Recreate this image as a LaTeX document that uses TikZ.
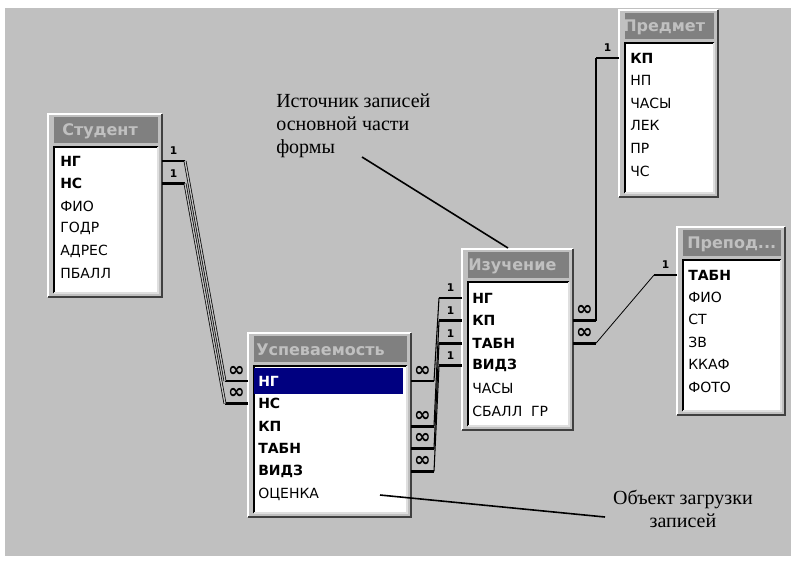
\documentclass[tikz,border=0pt]{standalone}
\usepackage{fontspec}
\setmainfont{DejaVu Sans}
\newfontfamily\notefont{Liberation Serif}
\usetikzlibrary{calc}

\definecolor{winface}{HTML}{C0C0C0}
\definecolor{winshadow}{HTML}{404040}
\definecolor{wintitle}{HTML}{808080}
\definecolor{winlight}{HTML}{DFDFDF}
\definecolor{selnavy}{HTML}{000080}

% one field list window: id, x0, y0, x1, y1, title, title x
\newcommand\fieldlist[7]{%
  \fill[winface] (#2,#3) rectangle (#4,#5);
  \draw[white, line width=1.5pt] (#2,#5) -- (#2,#3) -- (#4,#3);
  \draw[winshadow, line width=1.5pt] (#4,#3) -- (#4,#5) -- (#2,#5);
  \fill[wintitle] (#2+6,#3+3) rectangle (#4-4,#3+29);
  \node[titletext] (#1-title) at (#7,#3+17) {#6};
  \fill[white] (#2+6,#3+33) rectangle (#4-4,#5-4);
  \draw[black, line width=1.5pt] (#2+6,#5-4) -- (#2+6,#3+33) -- (#4-4,#3+33);
  \draw[winlight, line width=1pt] (#4-4,#3+33) -- (#4-4,#5-4) -- (#2+6,#5-4);
  \coordinate (#1-nw) at (#2,#3);
  \coordinate (#1-se) at (#4,#5);
}

\begin{document}
\begin{tikzpicture}[
  x=0.75pt, y=-0.75pt,
  field/.style={anchor=west, inner sep=0pt, font=\fontsize{10.5}{12}\selectfont},
  titletext/.style={anchor=west, inner sep=0pt, text=winface, font=\bfseries\fontsize{12}{14}\selectfont},
  stub/.style={line width=2.2pt},
  link/.style={line width=0.8pt},
  duallink/.style={line width=0.55pt, double=winface, double distance=1pt},
  one/.style={font=\bfseries\fontsize{8}{8}\selectfont, inner sep=0pt, yshift=7.5pt},
  many/.style={font=\bfseries\fontsize{15}{15}\selectfont, inner sep=0pt, yshift=7.5pt},
  note/.style={font=\notefont\fontsize{15}{17.25}\selectfont, inner sep=0pt, align=left},
  leader/.style={line width=1.2pt}
]
\useasboundingbox (0,0) rectangle (795,562);
\fill[white] (0,0) rectangle (795,562);
\fill[winface] (5,8) rectangle (791,556);

% field lists
\fieldlist{stud}{48}{114}{162}{297}{Студент}{62}
\foreach \f [count=\i] in {\textbf{НГ},\textbf{НС},ФИО,ГОДР,АДРЕС,ПБАЛЛ}
  \node[field] (stud-\i) at (60,{161+(\i-1)*22.5}) {\f};

\fieldlist{pred}{619}{10}{718}{197}{Предмет}{623}
\foreach \f [count=\i] in {\textbf{КП},НП,ЧАСЫ,ЛЕК,ПР,ЧС}
  \node[field] (pred-\i) at (630,{58+(\i-1)*22.6}) {\f};

\fieldlist{izu}{462}{249}{573}{430}{Изучение}{468}
\foreach \f [count=\i] in {\textbf{НГ},\textbf{КП},\textbf{ТАБН},\textbf{ВИДЗ},ЧАСЫ,СБАЛЛ~ ГР}
  \node[field] (izu-\i) at (472,{298+(\i-1)*22.6}) {\f};

\fieldlist{prep}{677}{227}{785}{415}{Препод...}{687}
\foreach \f [count=\i] in {\textbf{ТАБН},ФИО,СТ,ЗВ,ККАФ,ФОТО}
  \node[field] (prep-\i) at (688,{275+(\i-1)*22.4}) {\f};

\fieldlist{usp}{248}{333}{411}{517}{Успеваемость}{256}
\fill[selnavy] (254,368) rectangle (403,394);
\foreach \f [count=\i] in {\textcolor{white}{\textbf{НГ}},\textbf{НС},\textbf{КП},\textbf{ТАБН},\textbf{ВИДЗ},ОЦЕНКА}
  \node[field] (usp-\i) at (258,{381+(\i-1)*22.6}) {\f};

% Студент -> Успеваемость
\foreach \a in {1,2} {
  \draw[stub] (stud-se |- stud-\a) -- node[one]{1} ++(23,0) coordinate (stud-r\a);
  \draw[stub] (usp-nw |- usp-\a) -- node[many]{∞} ++(-23,0) coordinate (usp-l\a);
  \draw[duallink] (stud-r\a) -- (usp-l\a);
}

% Изучение -> Успеваемость
\foreach \a/\b in {1/1,2/3,3/4,4/5} {
  \draw[stub] (izu-nw |- izu-\a) -- node[one]{1} ++(-23,0) coordinate (izu-l\a);
  \draw[stub] (usp-se |- usp-\b) -- node[many]{∞} ++(23,0) coordinate (usp-r\b);
  \draw[link] (izu-l\a) -- (usp-r\b);
}

% Изучение -> Предмет, Изучение -> Преподаватель
\draw[stub] (izu-se |- izu-2) -- node[many]{∞} ++(23,0) coordinate (izu-r2);
\draw[stub] (pred-nw |- pred-1) -- node[one]{1} ++(-23,0) coordinate (pred-l1);
\draw[link] (izu-r2) -- (pred-l1);
\draw[stub] (izu-se |- izu-3) -- node[many]{∞} ++(23,0) coordinate (izu-r3);
\draw[stub] (prep-nw |- prep-1) -- node[one]{1} ++(-23,0) coordinate (prep-l1);
\draw[link, line width=0.6pt] (izu-r3) -- (prep-l1);

% annotations
\node[note, anchor=north west] (srcnote) at (276,94) {Источник записей\\основной части\\формы};
\coordinate (srcfrom) at (362,157);
\coordinate (srcto) at (508,248);
\draw[leader] (srcfrom) -- (srcto);

\node[note, align=center] (loadnote) at (683,509) {Объект загрузки\\записей};
\coordinate (loadfrom) at (605,517);
\coordinate (loadto) at (380,495);
\draw[leader] (loadfrom) -- (loadto);
\end{tikzpicture}
\end{document}
